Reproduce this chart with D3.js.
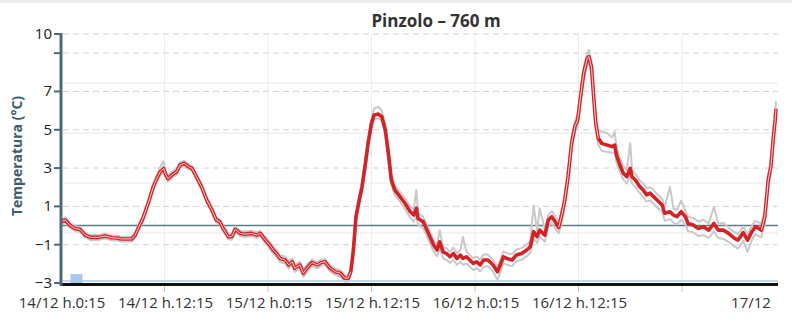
<!DOCTYPE html>
<html><head><meta charset="utf-8">
<script src="https://cdn.jsdelivr.net/npm/d3@7"></script>
<style>
html,body{margin:0;padding:0;background:#fff;}
svg{display:block;font-family:"Open Sans",sans-serif;}
</style></head><body>
<svg id="c" width="792" height="319"></svg>
<script>
// hours after 14/12 h.0:15
const hours = [
 0, 0.5, 1, 1.6, 2.2, 2.8, 3.4, 4.3, 5.1, 5.9,
 6.5, 7, 8.2, 8.6, 9.2, 9.5, 10.1, 10.7, 11.1, 11.5,
 11.9, 12.1, 12.4, 13, 13.4, 13.8, 14.3, 14.8, 15.2, 15.7,
 16.3, 16.9, 17.5, 18, 18.4, 18.8, 19.4, 19.8, 20.2, 20.8,
 21.3, 22.1, 22.7, 23.1, 23.7, 24.2, 24.6, 25, 25.4, 26,
 26.4, 26.8, 27.1, 27.7, 28.1, 28.5, 29.1, 29.7, 30.2, 30.6,
 31.2, 31.8, 32.4, 32.9, 33.3, 33.6, 33.9, 34.2, 34.5, 34.9,
 35.3, 35.6, 36, 36.3, 36.8, 37.2, 37.6, 38, 38.3, 38.7,
 39.3, 39.9, 40.5, 40.9, 41.2, 41.4, 42, 42.6, 43.2, 43.6,
 43.9, 44.3, 44.7, 45.1, 45.5, 45.9, 46.3, 46.6, 47, 47.4,
 47.8, 48.2, 48.6, 49, 49.5, 50.1, 50.6, 51, 51.3, 51.7,
 52.3, 52.8, 53.4, 54, 54.4, 54.8, 55.2, 55.5, 56.1, 56.5,
 56.9, 57.3, 57.7, 58.1, 58.4, 58.8, 59.2, 59.6, 59.9, 60.2,
 60.6, 61, 61.2, 61.5, 61.7, 62, 62.3, 62.7, 63.3, 63.9,
 64.2, 64.4, 64.8, 65.2, 65.6, 66, 66.2, 66.6, 67.1, 67.5,
 67.9, 68.3, 68.7, 69.1, 69.7, 70, 70.6, 71, 71.4, 71.9,
 72.4, 72.7, 73.3, 73.9, 74.5, 75.1, 75.7, 76.2, 76.8, 77.4,
 78.1, 78.5, 79.1, 79.6, 80.1, 80.5, 80.9, 81.2, 81.6, 82,
 82.3, 82.6, 82.8, 82.9];
const temp = [
 0.2, 0.29, 0.03, -0.15, -0.2, -0.5, -0.62, -0.62, -0.55, -0.64,
 -0.65, -0.7, -0.7, -0.5, 0.1, 0.37, 1.15, 2.02, 2.45, 2.8,
 2.98, 2.7, 2.45, 2.7, 2.8, 3.16, 3.25, 3.07, 2.98, 2.55,
 2.02, 1.33, 0.81, 0.29, 0.2, -0.15, -0.58, -0.58, -0.2, -0.41,
 -0.45, -0.41, -0.5, -0.41, -0.76, -1.02, -1.28, -1.46, -1.72, -1.8,
 -2.06, -1.89, -2.23, -2.06, -2.49, -2.23, -1.93, -2.06, -1.93, -1.89,
 -2.23, -2.41, -2.49, -2.75, -2.75, -2.41, -1.28, 0.46, 1.15, 2.02,
 3.25, 4.29, 5.34, 5.77, 5.82, 5.68, 4.99, 3.6, 2.38, 1.86,
 1.51, 1.15, 0.72, 0.55, 0.9, 0.37, 0.2, -0.41, -1.02, -1.28,
 -0.85, -1.37, -1.46, -1.63, -1.46, -1.72, -1.54, -1.72, -1.63, -1.8,
 -1.98, -1.89, -2.06, -1.8, -1.8, -2.06, -2.41, -1.98, -1.63, -1.72,
 -1.8, -1.54, -1.46, -1.28, -1.11, -0.32, -0.58, -0.24, -0.5, 0.29,
 0.46, 0.2, -0.1, 0.64, 1.3, 2.6, 4.3, 5.2, 5.5, 6.6,
 7.95, 8.7, 8.82, 8.29, 7.08, 5.34, 4.55, 4.29, 4.2, 4.12,
 4.2, 3.68, 3.16, 2.73, 2.55, 2.99, 2.55, 2.38, 2.03, 1.86,
 1.6, 1.69, 1.51, 1.33, 1.07, 0.64, 0.72, 0.55, 0.46, 0.72,
 0.46, 0.11, 0.03, -0.15, -0.06, -0.24, 0.11, -0.24, -0.24, -0.41,
 -0.67, -0.76, -0.37, -0.76, -0.32, -0.06, -0.15, -0.24, 0.46, 2.38,
 3.07, 4.64, 5.51, 6.1];
const tempMax = [
 0.32, 0.42, 0.15, -0.03, -0.08, -0.38, -0.5, -0.5, -0.43, -0.52,
 -0.53, -0.58, -0.58, -0.35, 0.25, 0.52, 1.3, 2.18, 2.62, 3.05,
 3.35, 2.85, 2.6, 2.85, 2.95, 3.3, 3.38, 3.2, 3.1, 2.68,
 2.15, 1.46, 0.95, 0.42, 0.35, 0.0, -0.42, -0.42, -0.05, -0.28,
 -0.3, -0.28, -0.35, -0.28, -0.6, -0.85, -1.1, -1.3, -1.55, -1.62,
 -1.88, -1.72, -2.05, -1.88, -2.3, -2.05, -1.78, -1.9, -1.78, -1.74,
 -2.08, -2.25, -2.33, -2.58, -2.6, -2.2, -1.0, 0.7, 1.4, 2.25,
 3.5, 4.5, 5.6, 6.1, 6.2, 6.0, 5.2, 3.9, 2.65, 2.1,
 1.75, 1.4, 1.0, 0.85, 1.86, 0.65, 0.45, -0.15, -0.75, -1.0,
 -0.25, -1.1, -1.2, -1.38, -1.15, -1.45, -1.28, -0.6, -1.35, -1.55,
 -1.7, -1.62, -1.78, -1.5, -1.52, -1.8, -2.15, -1.72, -1.35, -1.45,
 -1.5, -1.25, -1.18, -1.0, -0.8, 1.05, -0.3, 0.9, -0.2, 0.55,
 0.75, 0.5, 0.2, 0.95, 1.6, 2.9, 4.6, 5.5, 5.8, 6.9,
 8.3, 9.0, 9.16, 8.6, 7.4, 5.7, 5.0, 4.9, 4.83, 4.6,
 4.9, 4.1, 3.5, 3.1, 2.9, 4.3, 2.9, 2.7, 2.35, 2.2,
 1.95, 2.0, 1.85, 1.65, 1.4, 0.95, 2.03, 0.9, 0.8, 1.3,
 0.8, 0.45, 0.4, 0.2, 0.3, 0.1, 0.98, 0.1, 0.15, -0.1,
 -0.35, -0.45, -0.05, -0.45, 0.0, 0.25, 0.15, 0.1, 0.8, 2.7,
 3.4, 5.0, 5.9, 6.5];
const tempMin = [
 0.08, 0.16, -0.1, -0.28, -0.33, -0.62, -0.75, -0.75, -0.68, -0.77,
 -0.78, -0.83, -0.83, -0.65, -0.05, 0.22, 1.0, 1.86, 2.3, 2.62,
 2.8, 2.55, 2.3, 2.55, 2.65, 3.02, 3.12, 2.94, 2.85, 2.42,
 1.88, 1.2, 0.67, 0.15, 0.05, -0.3, -0.72, -0.74, -0.35, -0.55,
 -0.6, -0.55, -0.65, -0.55, -0.92, -1.2, -1.45, -1.62, -1.9, -1.98,
 -2.25, -2.08, -2.42, -2.25, -2.68, -2.42, -2.1, -2.24, -2.1, -2.05,
 -2.4, -2.58, -2.67, -2.92, -2.92, -2.62, -1.55, 0.2, 0.9, 1.8,
 3.0, 4.05, 5.1, 5.55, 5.6, 5.45, 4.75, 3.3, 2.1, 1.6,
 1.25, 0.85, 0.4, 0.2, 0.55, 0.05, -0.15, -0.75, -1.35, -1.6,
 -1.2, -1.7, -1.8, -1.95, -1.8, -2.05, -1.9, -2.05, -1.98, -2.15,
 -2.32, -2.22, -2.4, -2.15, -2.12, -2.4, -2.85, -2.35, -1.95, -2.05,
 -2.12, -1.88, -1.78, -1.6, -1.45, -0.7, -0.9, -0.58, -0.85, -0.05,
 0.15, -0.15, -0.4, 0.3, 1.0, 2.3, 4.0, 4.9, 5.2, 6.3,
 7.6, 8.4, 8.5, 7.95, 6.75, 5.0, 4.2, 3.9, 3.85, 3.8,
 3.78, 3.3, 2.8, 2.4, 2.2, 2.6, 2.2, 2.0, 1.7, 1.5,
 1.25, 1.3, 1.15, 0.95, 0.7, 0.25, 0.35, 0.15, 0.05, 0.3,
 0.05, -0.3, -0.35, -0.55, -0.5, -0.65, -0.3, -0.65, -0.7, -0.85,
 -1.1, -1.2, -0.8, -1.37, -0.75, -0.45, -0.55, -0.6, 0.1, 2.0,
 2.7, 4.3, 5.1, 5.7];

const precipHours = [1.8];
const precipMm = [0.18];

const xTickHours = [0, 12, 24, 36, 48, 60, 72];
const xTickLabels = ["14/12 h.0:15", "14/12 h.12:15", "15/12 h.0:15", "15/12 h.12:15", "16/12 h.0:15", "16/12 h.12:15", ""];
const extraLabelHour = [80];
const extraLabel = ["17/12"];
const yTicks = [-3, -1, 1, 3, 5, 7, 9, 10];
const yTickLabels = {"-3":"\u22123","-1":"\u22121","1":"1","3":"3","5":"5","7":"7","9":"","10":"10"};
const title = "Pinzolo \u2013 760 m";
const yTitle = "Temperatura (\u00B0C)";
// hour spans where the red trace shows a light centre
const lightSpans = [[0, 33.6], [57.7, 62.3], [81.2, 83]];

const svg = d3.select("#c");
const L = 61, R = 778, T = 34, B = 283;
const x = d3.scaleLinear().domain([0, 83.13]).range([L, R]);
const y = d3.scaleLinear().domain([-3, 10]).range([B, T]);
const yP = d3.scaleLinear().domain([0, 5]).range([B, B - 250]);

// top strip
svg.append("rect").attr("x",0).attr("y",0).attr("width",792).attr("height",3).attr("fill","#eeeeee");

// secondary (precip) solid gridlines
svg.append("g").selectAll("line").data([1,2,3,4]).join("line")
  .attr("x1",L+2).attr("x2",R).attr("y1",d=>yP(d)).attr("y2",d=>yP(d))
  .attr("stroke","#e8e8e8").attr("stroke-width",1);
// vertical grid
svg.append("g").selectAll("line").data(xTickHours.slice(1)).join("line")
  .attr("x1",d=>x(d)).attr("x2",d=>x(d)).attr("y1",T).attr("y2",B)
  .attr("stroke","#ececec").attr("stroke-width",1);
// dashed temp gridlines
svg.append("g").selectAll("line").data(yTicks.filter(d=>d>-3)).join("line")
  .attr("x1",L+2).attr("x2",R).attr("y1",d=>y(d)).attr("y2",d=>y(d))
  .attr("stroke","#d4d4d4").attr("stroke-width",1).attr("stroke-dasharray","6,4");
// zero line
svg.append("line").attr("x1",L).attr("x2",R).attr("y1",y(0)).attr("y2",y(0))
  .attr("stroke","#5d7c88").attr("stroke-width",1.5);

// precipitation
svg.append("g").selectAll("rect").data(precipHours).join("rect")
  .attr("x",(d)=>x(d)-6).attr("width",12)
  .attr("y",(d,i)=>yP(precipMm[i])).attr("height",(d,i)=>yP(0)-yP(precipMm[i]))
  .attr("fill","#a9caee");
svg.append("line").attr("x1",L+2).attr("x2",R).attr("y1",yP(0)-2).attr("y2",yP(0)-2)
  .attr("stroke","#a9caee").attr("stroke-width",1.5);

// series
const idx = d3.range(hours.length);
const mk = arr => d3.line().x(i=>x(hours[i])).y(i=>y(arr[i]));
svg.append("path").attr("d",mk(tempMax)(idx)).attr("fill","none").attr("stroke","#c9c9c9").attr("stroke-width",2).attr("stroke-linejoin","round");
svg.append("path").attr("d",mk(tempMin)(idx)).attr("fill","none").attr("stroke","#c9c9c9").attr("stroke-width",2).attr("stroke-linejoin","round");
svg.append("path").attr("d",mk(temp)(idx)).attr("fill","none").attr("stroke","#d42327").attr("stroke-width",3.6).attr("stroke-linejoin","round");
const inLight = h => lightSpans.some(s => h >= s[0] && h <= s[1]);
svg.append("path").attr("d", mk(temp).defined(i=>inLight(hours[i]))(idx))
  .attr("fill","none").attr("stroke","#fbe3e3").attr("stroke-width",0.9).attr("stroke-linejoin","round");

// x axis
svg.append("line").attr("x1",L).attr("x2",R).attr("y1",B+1.5).attr("y2",B+1.5)
  .attr("stroke","#111").attr("stroke-width",3);
const xg = svg.append("g");
xg.selectAll("line").data(xTickHours.slice(1)).join("line")
  .attr("x1",d=>x(d)).attr("x2",d=>x(d)).attr("y1",B+3).attr("y2",B+9)
  .attr("stroke","#c8c8c8").attr("stroke-width",1);
xg.selectAll("text.t").data(xTickHours).join("text").attr("class","t")
  .attr("x",d=>x(d)+1).attr("y",308).attr("text-anchor","middle")
  .attr("font-size",15).attr("fill","#333").text((d,i)=>xTickLabels[i]);
xg.selectAll("text.e").data(extraLabelHour).join("text").attr("class","e")
  .attr("x",d=>x(d)).attr("y",308).attr("text-anchor","middle")
  .attr("font-size",15).attr("fill","#333").text((d,i)=>extraLabel[i]);

// y axis
svg.append("line").attr("x1",L).attr("x2",L).attr("y1",T-1).attr("y2",B+3)
  .attr("stroke","#4b6a77").attr("stroke-width",3);
const yg = svg.append("g");
yg.selectAll("line").data(yTicks).join("line")
  .attr("x1",L-7).attr("x2",L).attr("y1",d=>y(d)).attr("y2",d=>y(d))
  .attr("stroke","#4b6a77").attr("stroke-width",2);
yg.selectAll("text").data(yTicks).join("text")
  .attr("x",L-9).attr("y",d=>y(d)+5).attr("text-anchor","end")
  .attr("font-size",15).attr("fill","#222").text(d=>yTickLabels[String(d)]);

// titles
svg.append("text").attr("x",436).attr("y",27).attr("text-anchor","middle")
  .attr("font-size",17).attr("font-weight","bold").attr("fill","#333").text(title);
svg.append("text").attr("transform","translate(22,156) rotate(-90)").attr("text-anchor","middle")
  .attr("font-size",14).attr("font-weight","bold").attr("fill","#3e5e6d").text(yTitle);
</script>
</body></html>
